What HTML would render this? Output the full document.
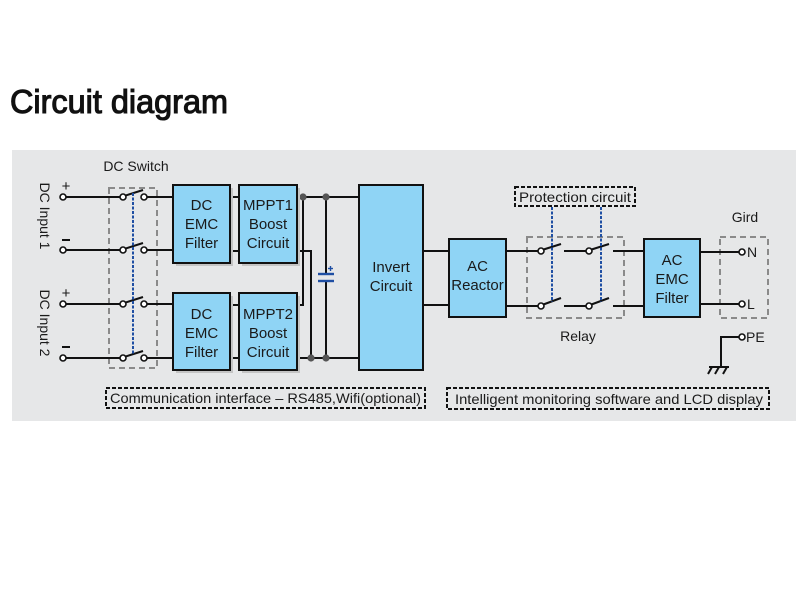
<!DOCTYPE html>
<html>
<head>
<meta charset="utf-8">
<style>
  html,body{margin:0;padding:0;background:#fff;}
  svg{display:block;}
  text{font-family:"Liberation Sans", sans-serif;}
</style>
</head>
<body>
<svg width="800" height="600" viewBox="0 0 800 600" xmlns="http://www.w3.org/2000/svg">
  <rect x="0" y="0" width="800" height="600" fill="#ffffff"/>
  <!-- Title -->
  <text x="10" y="113" font-size="33" fill="#111" stroke="#111" stroke-width="1.1" textLength="218" lengthAdjust="spacingAndGlyphs">Circuit diagram</text>

  <!-- Panel -->
  <rect x="12" y="150" width="784" height="271" fill="#e6e7e8"/>

  <!-- Dashed gray boxes -->
  <g fill="none" stroke="#8a8a8a" stroke-width="2" stroke-dasharray="6,4">
    <rect x="109" y="188" width="48" height="180"/>
    <rect x="527" y="237" width="97" height="81"/>
    <rect x="720" y="237" width="48" height="81"/>
  </g>

  <!-- Wires -->
  <g stroke="#111" stroke-width="2" fill="none">
    <line x1="63" y1="197" x2="120" y2="197"/>
    <line x1="147" y1="197" x2="173" y2="197"/>
    <line x1="63" y1="250" x2="120" y2="250"/>
    <line x1="147" y1="250" x2="173" y2="250"/>
    <line x1="63" y1="304" x2="120" y2="304"/>
    <line x1="147" y1="304" x2="173" y2="304"/>
    <line x1="63" y1="358" x2="120" y2="358"/>
    <line x1="147" y1="358" x2="173" y2="358"/>
    <line x1="230" y1="197" x2="239" y2="197"/>
    <line x1="230" y1="251" x2="239" y2="251"/>
    <line x1="230" y1="305" x2="239" y2="305"/>
    <line x1="230" y1="358" x2="239" y2="358"/>
    <line x1="297" y1="197" x2="359" y2="197"/>
    <polyline points="297,251 311,251 311,358"/>
    <polyline points="297,305 303,305 303,197"/>
    <line x1="297" y1="358" x2="359" y2="358"/>
    <line x1="326" y1="197" x2="326" y2="274"/>
    <line x1="326" y1="281" x2="326" y2="358"/>
    <line x1="423" y1="251" x2="449" y2="251"/>
    <line x1="423" y1="305" x2="449" y2="305"/>
    <line x1="506" y1="251" x2="538" y2="251"/>
    <line x1="506" y1="306" x2="538" y2="306"/>
    <line x1="564" y1="251" x2="586" y2="251"/>
    <line x1="564" y1="306" x2="586" y2="306"/>
    <line x1="613" y1="251" x2="644" y2="251"/>
    <line x1="613" y1="306" x2="644" y2="306"/>
    <line x1="700" y1="252" x2="739" y2="252"/>
    <line x1="700" y1="304" x2="739" y2="304"/>
    <polyline points="721,367 721,337 739,337"/>
    <line x1="709" y1="367" x2="729" y2="367"/>
    <line x1="712" y1="367" x2="708" y2="374"/>
    <line x1="719" y1="367" x2="715" y2="374"/>
    <line x1="727" y1="367" x2="723" y2="374"/>
    <line x1="124" y1="196" x2="143" y2="190"/>
    <line x1="124" y1="249" x2="143" y2="243"/>
    <line x1="124" y1="303" x2="143" y2="297"/>
    <line x1="124" y1="357" x2="143" y2="351"/>
    <line x1="542" y1="250" x2="561" y2="244"/>
    <line x1="542" y1="305" x2="561" y2="298"/>
    <line x1="590" y1="250" x2="609" y2="244"/>
    <line x1="590" y1="305" x2="609" y2="298"/>
  </g>

  <!-- Terminal circles -->
  <g fill="#ffffff" stroke="#111" stroke-width="1.6">
    <circle cx="63" cy="197" r="3"/>
    <circle cx="63" cy="250" r="3"/>
    <circle cx="63" cy="304" r="3"/>
    <circle cx="63" cy="358" r="3"/>
    <circle cx="123" cy="197" r="3"/>
    <circle cx="144" cy="197" r="3"/>
    <circle cx="123" cy="250" r="3"/>
    <circle cx="144" cy="250" r="3"/>
    <circle cx="123" cy="304" r="3"/>
    <circle cx="144" cy="304" r="3"/>
    <circle cx="123" cy="358" r="3"/>
    <circle cx="144" cy="358" r="3"/>
    <circle cx="541" cy="251" r="3"/>
    <circle cx="589" cy="251" r="3"/>
    <circle cx="541" cy="306" r="3"/>
    <circle cx="589" cy="306" r="3"/>
    <circle cx="742" cy="252" r="3"/>
    <circle cx="742" cy="304" r="3"/>
    <circle cx="742" cy="337" r="3"/>
  </g>

  <!-- Junction dots -->
  <g fill="#555">
    <circle cx="303" cy="197" r="3.6"/>
    <circle cx="326" cy="197" r="3.6"/>
    <circle cx="311" cy="358" r="3.6"/>
    <circle cx="326" cy="358" r="3.6"/>
  </g>

  <!-- Blue dashed mechanical links -->
  <g stroke="#1f4fa3" stroke-width="2" stroke-dasharray="3,1.5" fill="none">
    <line x1="133" y1="193" x2="133" y2="355"/>
    <line x1="552" y1="207" x2="552" y2="302"/>
    <line x1="601" y1="207" x2="601" y2="302"/>
  </g>

  <!-- Capacitor -->
  <g stroke="#1f4fa3" stroke-width="2.4" fill="none">
    <line x1="318" y1="274" x2="334" y2="274"/>
    <line x1="318" y1="281" x2="334" y2="281"/>
    <line x1="328" y1="268.5" x2="333" y2="268.5" stroke-width="1.4"/>
    <line x1="330.5" y1="266" x2="330.5" y2="271" stroke-width="1.4"/>
  </g>

  <!-- Box shadows -->
  <g fill="#c4c4c4">
    <rect x="176" y="188" width="57" height="78"/>
    <rect x="242" y="188" width="58" height="78"/>
    <rect x="176" y="296" width="57" height="77"/>
    <rect x="242" y="296" width="58" height="77"/>
  </g>

  <!-- Boxes -->
  <g fill="#8fd4f5" stroke="#111" stroke-width="2">
    <rect x="173" y="185" width="57" height="78"/>
    <rect x="239" y="185" width="58" height="78"/>
    <rect x="173" y="293" width="57" height="77"/>
    <rect x="239" y="293" width="58" height="77"/>
    <rect x="359" y="185" width="64" height="185"/>
    <rect x="449" y="239" width="57" height="78"/>
    <rect x="644" y="239" width="56" height="78"/>
  </g>

  <!-- Box labels -->
  <g font-size="15" fill="#1a1a1a" text-anchor="middle">
    <text x="201.5" y="210">DC</text>
    <text x="201.5" y="229">EMC</text>
    <text x="201.5" y="248">Filter</text>
    <text x="268" y="210">MPPT1</text>
    <text x="268" y="229">Boost</text>
    <text x="268" y="248">Circuit</text>
    <text x="201.5" y="319">DC</text>
    <text x="201.5" y="338">EMC</text>
    <text x="201.5" y="357">Filter</text>
    <text x="268" y="319">MPPT2</text>
    <text x="268" y="338">Boost</text>
    <text x="268" y="357">Circuit</text>
    <text x="391" y="272">Invert</text>
    <text x="391" y="291">Circuit</text>
    <text x="477.5" y="271">AC</text>
    <text x="477.5" y="290">Reactor</text>
    <text x="672" y="265">AC</text>
    <text x="672" y="284">EMC</text>
    <text x="672" y="303">Filter</text>
  </g>

  <!-- Other labels -->
  <g font-size="14" fill="#1a1a1a">
    <text x="136" y="171" text-anchor="middle">DC Switch</text>
    <text x="578" y="341" text-anchor="middle">Relay</text>
    <text x="745" y="222" text-anchor="middle">Gird</text>
    <text x="747" y="257">N</text>
    <text x="747" y="309">L</text>
    <text x="746" y="342">PE</text>
    <text x="66" y="191" text-anchor="middle" font-size="15">+</text>
    <text x="66" y="298" text-anchor="middle" font-size="15">+</text>
    <text transform="translate(40,216) rotate(90)" text-anchor="middle">DC Input 1</text>
    <text transform="translate(40,323) rotate(90)" text-anchor="middle">DC Input 2</text>
  </g>
  <g stroke="#111" stroke-width="2">
    <line x1="62" y1="240" x2="70" y2="240"/>
    <line x1="62" y1="347" x2="70" y2="347"/>
  </g>

  <!-- Black dashed label boxes -->
  <g fill="none" stroke="#111" stroke-width="2" stroke-dasharray="4,2">
    <rect x="515" y="187" width="120" height="19"/>
    <rect x="106" y="388" width="319" height="20"/>
    <rect x="447" y="388" width="322" height="21"/>
  </g>
  <g font-size="14" fill="#1a1a1a">
    <text x="519" y="202" textLength="112" lengthAdjust="spacingAndGlyphs">Protection circuit</text>
    <text x="110" y="403" textLength="311" lengthAdjust="spacingAndGlyphs">Communication interface – RS485,Wifi(optional)</text>
    <text x="455" y="404" textLength="308" lengthAdjust="spacingAndGlyphs">Intelligent monitoring software and LCD display</text>
  </g>
</svg>
</body>
</html>
